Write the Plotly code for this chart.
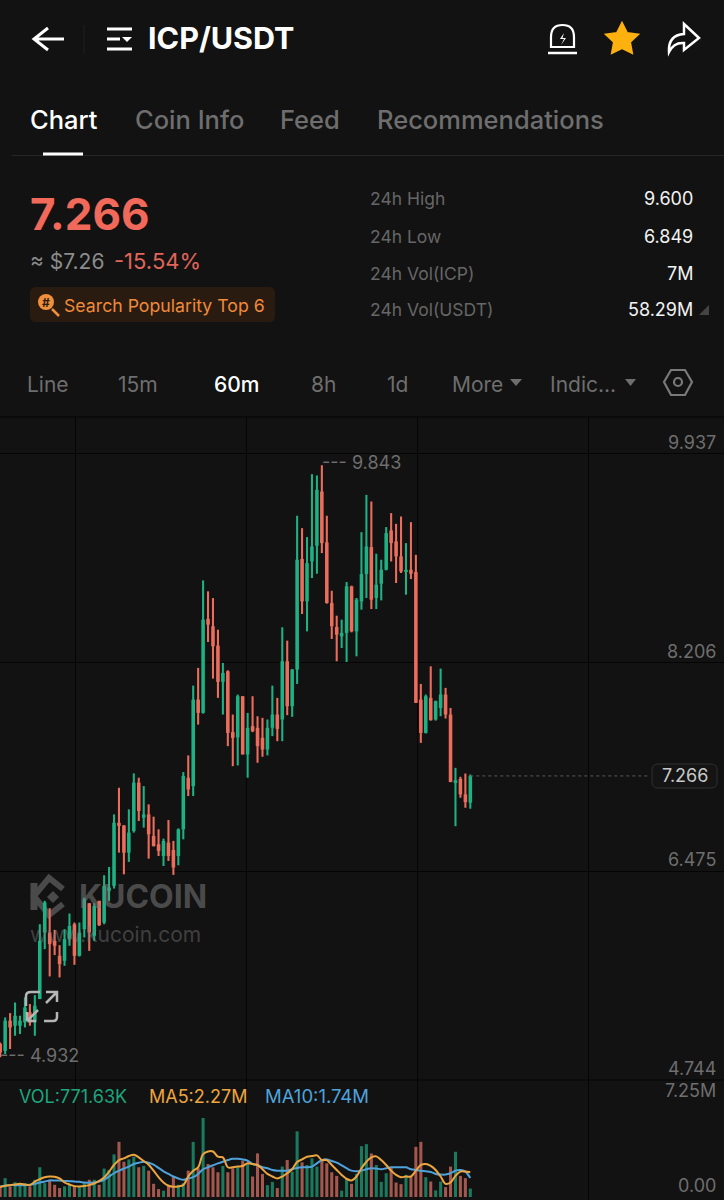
import re
import plotly.graph_objects as go

W, H = 724, 1200
BG = "#121212"
GRID = "#050505"
GREEN = "#1DB184"
RED = "#EC6D5C"
GREY = "#6E6E6E"
FONT = "Inter"

# hourly candles
opens = [5.042, 4.985, 5.236, 5.194, 5.194, 5.222, 5.305, 5.222, 5.415, 5.967,
         5.967, 5.898, 5.774, 5.733, 5.912, 6.036, 5.774, 5.995, 6.210, 5.940,
         6.230, 6.050, 6.312, 6.354, 6.878, 6.856, 6.630, 6.809, 7.210, 6.920,
         6.947, 6.768, 6.699, 6.602, 6.713, 6.652, 6.602, 6.823, 7.251, 7.182,
         7.899, 7.789, 8.568, 8.507, 8.347, 8.046, 8.134, 7.629, 7.585, 7.927,
         7.444, 7.679, 7.665, 7.582, 7.485, 7.665, 7.775, 7.734, 8.217, 7.844,
         8.148, 9.065, 8.714, 9.045, 9.175, 9.625, 9.203, 8.700, 8.501, 8.424,
         8.452, 8.838, 8.465, 8.714, 8.940, 9.164, 8.742, 8.860, 8.976, 9.302,
         9.211, 9.087, 8.962, 8.976, 8.957, 7.899, 7.623, 7.913, 7.734, 7.830,
         7.941, 7.775, 7.215, 7.242, 7.113, 7.044]
highs = [5.056, 5.263, 5.299, 5.387, 5.277, 5.429, 5.374, 5.448, 6.036, 6.230,
         6.169, 5.989, 5.862, 5.995, 6.125, 6.050, 6.050, 6.257, 6.210, 6.210,
         6.230, 6.442, 6.511, 6.947, 7.168, 6.856, 6.989, 7.287, 7.251, 7.182,
         7.030, 6.928, 6.823, 6.746, 6.900, 6.727, 6.831, 7.298, 7.436, 8.015,
         8.162, 8.888, 8.797, 8.741, 8.479, 8.203, 8.142, 7.775, 7.941, 7.927,
         7.789, 7.927, 7.761, 7.748, 7.734, 8.015, 7.913, 8.499, 8.388, 8.153,
         9.424, 9.321, 9.247, 9.769, 9.758, 9.843, 9.424, 8.802, 8.595, 8.562,
         8.874, 8.844, 8.742, 9.288, 9.597, 9.542, 9.109, 9.059, 9.330, 9.446,
         9.357, 9.418, 9.197, 9.371, 9.100, 8.029, 7.941, 8.175, 7.891, 8.156,
         7.996, 7.830, 7.333, 7.259, 7.286, 7.278]
lows = [4.932, 4.959, 5.001, 5.111, 5.125, 5.180, 5.194, 5.111, 5.415, 5.829,
        5.603, 5.780, 5.595, 5.691, 5.857, 5.699, 5.768, 5.926, 5.815, 5.898,
        6.022, 6.036, 6.230, 6.332, 6.630, 6.450, 6.553, 6.796, 6.892, 6.837,
        6.580, 6.680, 6.602, 6.519, 6.561, 6.445, 6.525, 6.740, 7.099, 7.099,
        7.692, 7.783, 8.377, 8.073, 7.913, 7.775, 7.513, 7.347, 7.353, 7.444,
        7.251, 7.629, 7.375, 7.425, 7.436, 7.596, 7.554, 7.554, 7.770, 7.756,
        8.029, 8.609, 8.465, 8.907, 8.943, 9.114, 8.695, 8.402, 8.217, 8.327,
        8.211, 8.457, 8.258, 8.645, 8.742, 8.650, 8.650, 8.722, 8.971, 9.045,
        8.866, 8.949, 8.769, 8.899, 7.872, 7.540, 7.618, 7.725, 7.725, 7.761,
        7.742, 7.215, 6.849, 7.085, 7.002, 6.994]
closes = [4.973, 5.236, 5.180, 5.277, 5.236, 5.346, 5.222, 5.360, 5.898, 6.216,
          5.871, 5.857, 5.705, 5.912, 6.022, 5.774, 5.967, 6.243, 5.967, 6.188,
          6.028, 6.354, 6.340, 6.878, 6.851, 6.630, 6.796, 7.210, 6.975, 6.947,
          6.782, 6.685, 6.644, 6.727, 6.602, 6.506, 6.823, 7.265, 7.154, 7.899,
          7.789, 8.562, 8.521, 8.341, 8.046, 8.120, 7.623, 7.582, 7.927, 7.444,
          7.665, 7.637, 7.513, 7.485, 7.665, 7.775, 7.656, 8.217, 7.844, 8.148,
          9.059, 8.714, 9.031, 9.169, 9.639, 9.197, 8.700, 8.507, 8.438, 8.452,
          8.838, 8.465, 8.728, 8.940, 9.169, 8.728, 8.852, 8.976, 9.280, 9.197,
          9.087, 8.962, 8.976, 8.943, 7.872, 7.623, 7.927, 7.728, 7.886, 7.941,
          7.775, 7.215, 7.231, 7.113, 7.049, 7.266]
volumes = [0.97, 1.73, 0.97, 1.36, 1.21, 1.27, 0.97, 1.58, 2.73, 1.27,
           1.58, 1.12, 0.82, 0.97, 1.12, 1.03, 0.91, 1.27, 1.58, 1.58,
           1.12, 2.61, 2.48, 3.91, 5.06, 3.24, 3.45, 3.70, 2.73, 2.85,
           2.42, 1.21, 0.73, 0.58, 1.12, 1.88, 1.12, 1.27, 2.42, 5.06,
           2.64, 7.25, 3.03, 2.73, 2.27, 2.85, 2.27, 2.64, 2.73, 3.33,
           3.09, 1.88, 4.00, 2.12, 1.09, 1.39, 0.82, 2.79, 3.39, 2.33,
           6.03, 3.18, 2.94, 3.55, 2.79, 3.39, 3.09, 2.27, 1.94, 0.58,
           1.73, 1.21, 2.12, 4.67, 4.85, 4.00, 2.94, 1.39, 2.18, 2.73,
           1.33, 1.18, 2.03, 1.88, 4.61, 5.06, 1.82, 1.42, 0.61, 1.42,
           0.91, 2.79, 4.15, 1.94, 1.73, 0.77]
ma5 = [0.91, 1.03, 1.09, 1.15, 1.21, 1.15, 1.09, 1.42, 1.64, 1.82,
       1.88, 1.85, 1.70, 1.33, 1.15, 1.00, 0.97, 1.00, 1.09, 1.24,
       1.48, 1.79, 2.33, 2.94, 3.39, 3.55, 3.76, 3.88, 3.64, 3.30,
       2.97, 2.42, 1.82, 1.33, 1.03, 0.94, 0.97, 1.09, 1.88, 2.42,
       2.73, 3.94, 4.18, 4.18, 3.70, 3.64, 2.73, 2.73, 2.79, 2.85,
       3.09, 3.03, 2.94, 2.55, 2.12, 1.88, 1.70, 1.88, 2.18, 2.55,
       3.21, 3.45, 3.70, 3.76, 3.82, 3.39, 3.39, 2.94, 2.48, 2.03,
       1.67, 1.52, 1.88, 2.64, 3.24, 3.64, 3.73, 3.39, 2.94, 2.42,
       2.03, 1.82, 1.88, 1.88, 2.42, 2.94, 3.03, 2.85, 2.48, 1.88,
       1.21, 1.33, 1.94, 2.33, 2.33, 2.27]
ma10 = [0.97, 1.03, 1.09, 1.09, 1.09, 1.09, 1.12, 1.21, 1.33, 1.42,
        1.52, 1.52, 1.52, 1.48, 1.45, 1.42, 1.39, 1.33, 1.30, 1.33,
        1.42, 1.58, 1.88, 2.18, 2.42, 2.61, 2.79, 3.03, 3.15, 3.24,
        3.15, 2.97, 2.67, 2.36, 2.12, 1.88, 1.70, 1.58, 1.70, 1.82,
        2.12, 2.55, 2.73, 2.91, 3.09, 3.24, 3.39, 3.51, 3.51, 3.45,
        3.33, 3.03, 2.91, 2.73, 2.64, 2.48, 2.42, 2.42, 2.42, 2.55,
        2.67, 2.73, 2.73, 2.79, 3.09, 3.39, 3.45, 3.30, 3.15, 2.91,
        2.64, 2.42, 2.36, 2.42, 2.55, 2.64, 2.61, 2.55, 2.64, 2.73,
        2.73, 2.73, 2.73, 2.55, 2.48, 2.42, 2.36, 2.30, 2.12, 2.06,
        2.06, 2.18, 2.42, 2.48, 2.33, 1.74]
candle_idx = list(range(len(closes)))

price_ticks = [9.937, 8.206, 6.475, 4.744]
price_labels = ["9.937", "8.206", "6.475", "4.744"]
grid_idx = [15.2, 49.8, 84.3, 118.9]
last_price = 7.266
stat_names = ["24h High", "24h Low", "24h Vol(ICP)", "24h Vol(USDT)"]
stat_values = ["9.600", "6.849", "7M", "58.29M"]
tabs = ["Chart", "Coin Info", "Feed", "Recommendations"]
periods = ["Line", "15m", "60m", "8h", "1d", "More", "Indic..."]


def px(x):
    return x / W


def py(y):
    return 1 - y / H


def pth(d):
    # path string in screen pixels -> paper coordinates
    out, is_x = [], True
    for tok in re.findall(r"[A-Za-z]|-?[\d.]+", d):
        if tok.isalpha():
            out.append(tok)
            is_x = True
        else:
            out.append(f"{px(float(tok)):.5f}" if is_x else f"{py(float(tok)):.5f}")
            is_x = not is_x
    return " ".join(out)


def icon(d, line=None, fill=None, width=2.5, layer="above"):
    return dict(type="path", xref="paper", yref="paper", path=pth(d), layer=layer,
                line=dict(color=line or "rgba(0,0,0,0)", width=width if line else 0),
                fillcolor=fill or "rgba(0,0,0,0)")


def label(x, y, text, size=20, color="#FFFFFF", anchor="left", weight=400):
    return dict(x=px(x), y=py(y), xref="paper", yref="paper", text=text, showarrow=False,
                xanchor=anchor, yanchor="middle", borderpad=0, borderwidth=0,
                font=dict(family=FONT, size=size, color=color, weight=weight))


up = [c >= o for o, c in zip(opens, closes)]

fig = go.Figure()

# wicks and bodies, so the two can have their own widths
fig.add_trace(go.Bar(
    x=candle_idx, y=[h - l for h, l in zip(highs, lows)], base=lows, width=0.42,
    xaxis="x", yaxis="y", showlegend=False,
    marker=dict(color=[GREEN if u else RED for u in up], line_width=0),
))
fig.add_trace(go.Bar(
    x=candle_idx, y=[abs(c - o) for o, c in zip(opens, closes)], base=[min(o, c) for o, c in zip(opens, closes)],
    width=0.72, xaxis="x", yaxis="y", showlegend=False,
    marker=dict(color=[GREEN if u else RED for u in up], line_width=0),
))
fig.add_trace(go.Bar(
    x=candle_idx, y=volumes, width=0.62, xaxis="x2", yaxis="y2", showlegend=False,
    marker=dict(color=["#1A7A5E" if u else "#A3574D" for u in up], line_width=0),
))
fig.add_trace(go.Scatter(x=candle_idx, y=ma10, mode="lines", xaxis="x2", yaxis="y2", showlegend=False,
                         line=dict(color="#4FA3DC", width=2, shape="spline")))
fig.add_trace(go.Scatter(x=candle_idx, y=ma5, mode="lines", xaxis="x2", yaxis="y2", showlegend=False,
                         line=dict(color="#EDA63F", width=2, shape="spline")))

shapes = [
    # separators
    dict(type="line", xref="paper", yref="paper", x0=px(12), x1=1, y0=py(155.5), y1=py(155.5),
         line=dict(color="#262626", width=1)),
    dict(type="line", xref="paper", yref="paper", x0=px(43), x1=px(83), y0=py(154), y1=py(154),
         line=dict(color="#FFFFFF", width=3)),
    dict(type="line", xref="paper", yref="paper", x0=0, x1=1, y0=py(417), y1=py(417),
         line=dict(color=GRID, width=1)),
    dict(type="line", xref="paper", yref="paper", x0=0, x1=1, y0=py(1080), y1=py(1080),
         line=dict(color=GRID, width=1)),
    dict(type="line", xref="paper", yref="paper", x0=px(84), x1=px(84), y0=py(25), y1=py(53),
         line=dict(color="#1F1F1F", width=1)),
    # last price line
    dict(type="line", xref="x", yref="y", x0=candle_idx[-1], x1=131, y0=last_price, y1=last_price,
         line=dict(color="#5A5A5A", width=1, dash="dot")),
    # last price tag
    icon("M658 764 L711 764 Q717 764 717 770 L717 782 Q717 788 711 788 L658 788 Q652 788 652 782 "
         "L652 770 Q652 764 658 764 Z", line="#303030", fill="#141414", width=1),
    # header icons
    icon("M64 39 L35 39 M48 28 L34 39 L48 50", line="#FFFFFF", width=3),
    icon("M107 29 L132 29 M107 39 L120 39 M107 49 L132 49", line="#FFFFFF", width=3),
    icon("M122 37 L132 37 L127 42 Z", fill="#FFFFFF"),
    icon("M551 47 L551 37 Q551 25 562.5 25 Q574 25 574 37 L574 47 Z", line="#FFFFFF", width=2.2),
    icon("M548 53 L577 53", line="#FFFFFF", width=2.5),
    icon("M564 33 L560 39 L564 39 L561 45 L566 38 L562.5 38 Z", fill="#FFFFFF"),
    icon("M622 23 L627 33 L638 34.5 L630 42 L632 53 L622 48 L612 53 L614 42 L606 34.5 L617 33 Z",
         line="#FDB10F", fill="#FDB10F", width=2),
    icon("M669 52 Q668 35 684 34 L684 24 L699 38 L684 50 L684 43 Q674 42 669 52 Z", line="#FFFFFF", width=2.5),
    # badge
    icon("M36 287 L269 287 Q275 287 275 293 L275 316 Q275 322 269 322 L36 322 Q30 322 30 316 L30 293 "
         "Q30 287 36 287 Z", fill="#2A1B10"),
    dict(type="circle", xref="paper", yref="paper", x0=px(38), x1=px(54), y0=py(294), y1=py(310),
         fillcolor="#F0903C", line=dict(width=0)),
    icon("M52 309 L59 316", line="#F0903C", width=2.5),
    # triangles
    icon("M699 315 L709 305 L709 315 Z", fill="#444444"),
    icon("M510 379 L522 379 L516 386 Z", fill="#6E6E6E"),
    icon("M625 379 L636 379 L630.5 386 Z", fill="#6E6E6E"),
    # settings hexagon
    icon("M671 370 L685 370 L692 382 L685 395 L671 395 L664 382 Z", line="#7A7A7A", width=2.2),
    dict(type="circle", xref="paper", yref="paper", x0=px(674), x1=px(682), y0=py(378), y1=py(386),
         line=dict(color="#7A7A7A", width=2.2)),
    # watermark logo
    icon("M63 889 L49 878 L34 896 L49 915 L63 904", line="#4A4A4A", width=6, layer="below"),
    icon("M34 883 L34 910", line="#4A4A4A", width=7, layer="below"),
    icon("M53 891 L59 897 L53 903 L47 897 Z", fill="#4A4A4A", layer="below"),
    # expand icon
    icon("M26 1006 L26 996 Q26 992 31 992 L40 992 M57 1012 L57 1017 Q57 1021 53 1021 L44 1021",
         line="#B5B5B5", width=2.5),
    icon("M46 992 L57 992 L57 1002 M57 992 L46 1003", line="#B5B5B5", width=2.5),
    icon("M27 1021 L38 1010 M27 1021 L27 1012 M27 1021 L36 1021", line="#B5B5B5", width=2.5),
]

annotations = [
    label(148, 38, "ICP/USDT", 30.5, "#FFFFFF", weight=700),
    label(30, 214, "7.266", 44, "#F0695A", weight=700),
    label(30, 261, "≈ $7.26", 21, "#8C8C8C"),
    label(114, 261, "-15.54%", 22, "#E0655A"),
    label(46, 302, "#", 12, "#2A1B10", anchor="center", weight=700),
    label(64, 305, "Search Popularity Top 6", 17.7, "#F08A3C"),
    label(79, 896, "KUCOIN", 32, "rgba(125,125,125,0.55)", weight=700),
    label(30, 934, "www.kucoin.com", 21, "rgba(125,125,125,0.45)"),
    label(685, 776, f"{last_price:.3f}", 18, "#C8C8C8", anchor="center"),
    label(322, 463, "--- 9.843", 18, "#6E6E6E"),
    label(0, 1055, "--- 4.932", 18, "#6E6E6E"),
    label(19, 1096, "VOL:771.63K", 18, "#1DA57C"),
    label(149, 1096, "MA5:2.27M", 18, "#EDA63F"),
    label(265, 1096, "MA10:1.74M", 18.5, "#4FA3DC"),
    label(716, 1090, "7.25M", 18, GREY, anchor="right"),
    label(716, 1185, "0.00", 18, GREY, anchor="right"),
]
for name, x, color in zip(tabs, [30, 135, 280, 377], ["#FFFFFF", GREY, GREY, GREY]):
    annotations.append(label(x, 120, name, 25.5, color, weight=500))
for name, val, y in zip(stat_names, stat_values, [198, 236, 273, 310]):
    annotations.append(label(370, y, name, 17.5, "#666666"))
    annotations.append(label(693, y, val, 18, "#F2F2F2", anchor="right"))
for name, x in zip(periods, [27, 118, 214, 311, 387, 452, 550]):
    annotations.append(label(x, 384, name, 21, "#FFFFFF" if name == "60m" else GREY, weight=500 if name == "60m" else 400))
for text, y in zip(price_labels, [442, 651, 859, 1068]):
    annotations.append(label(716, y, text, 18, GREY, anchor="right"))

fig.update_layout(
    width=W, height=H,
    margin=dict(l=0, r=0, t=0, b=0),
    paper_bgcolor=BG, plot_bgcolor=BG,
    showlegend=False, barmode="overlay",
    shapes=shapes, annotations=annotations,
    xaxis=dict(domain=[0, 1], range=[-0.04, W / 4.95], tickvals=grid_idx, showticklabels=False,
               showgrid=True, gridcolor=GRID, gridwidth=1, zeroline=False, anchor="y", ticks=""),
    yaxis=dict(domain=[1 - 1080 / H, 1 - 417 / H], range=[4.744, 10.243], tickvals=price_ticks,
               showticklabels=False, showgrid=True, gridcolor=GRID, gridwidth=1, zeroline=False, ticks=""),
    xaxis2=dict(domain=[0, 1], range=[-0.04, W / 4.95], tickvals=grid_idx, showticklabels=False,
                showgrid=True, gridcolor=GRID, gridwidth=1, zeroline=False, anchor="y2", ticks=""),
    yaxis2=dict(domain=[0, 120 / H], range=[-0.275, 10.74], showticklabels=False, showgrid=False,
                zeroline=False, anchor="x2", ticks=""),
)

fig.write_html("out.html", config=dict(displayModeBar=False),
               post_script="document.body.style.margin='0';document.body.style.background='#121212';")
